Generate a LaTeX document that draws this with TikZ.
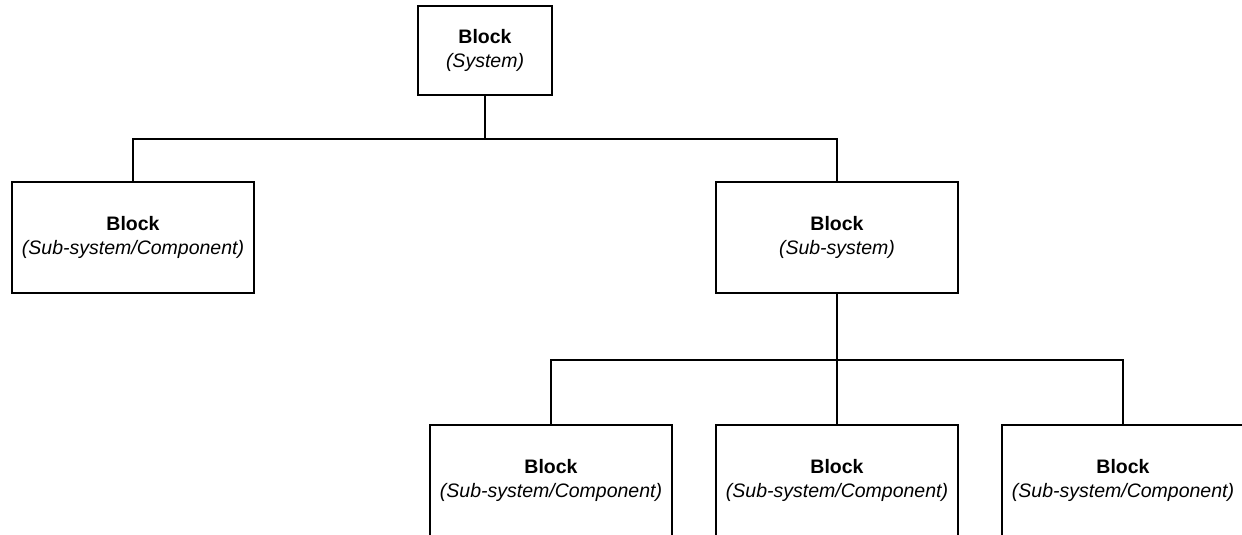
\documentclass[tikz,border=0pt]{standalone}
\usepackage{fontspec}
\setmainfont{Liberation Sans}
\begin{document}
\begin{tikzpicture}[x=1pt,y=-1pt,
  blk/.style={draw=black, line width=2pt, fill=white, align=center, inner sep=0pt,
    font=\fontsize{19.5}{24}\selectfont},
  wire/.style={draw=black, line width=2pt}]
\useasboundingbox[fill=white] (0,0) rectangle (1242,535);
\clip (0,0) rectangle (1242,535);
\node[blk, minimum width=134pt, minimum height=89pt] (top) at (485,50.5) {\textbf{Block}\\\textit{(System)}};
\node[blk, minimum width=242pt, minimum height=111pt] (left) at (133,237.5) {\textbf{Block}\\\textit{(Sub-system/Component)}};
\node[blk, minimum width=242pt, minimum height=111pt] (right) at (837,237.5) {\textbf{Block}\\\textit{(Sub-system)}};
\node[blk, minimum width=242pt, minimum height=111pt] (b1) at (551,480) {\textbf{Block}\\\textit{(Sub-system/Component)}};
\node[blk, minimum width=242pt, minimum height=111pt] (b2) at (837,480) {\textbf{Block}\\\textit{(Sub-system/Component)}};
\node[blk, minimum width=242pt, minimum height=111pt] (b3) at (1123,480) {\textbf{Block}\\\textit{(Sub-system/Component)}};
\draw[wire] (top.south) -- ++(0,43) -| (left.north);
\draw[wire] (top.south) -- ++(0,43) -| (right.north);
\draw[wire] (right.south) -- ++(0,65.5) -| (b1.north);
\draw[wire] (right.south) -- (b2.north);
\draw[wire] (right.south) -- ++(0,65.5) -| (b3.north);
\end{tikzpicture}
\end{document}
